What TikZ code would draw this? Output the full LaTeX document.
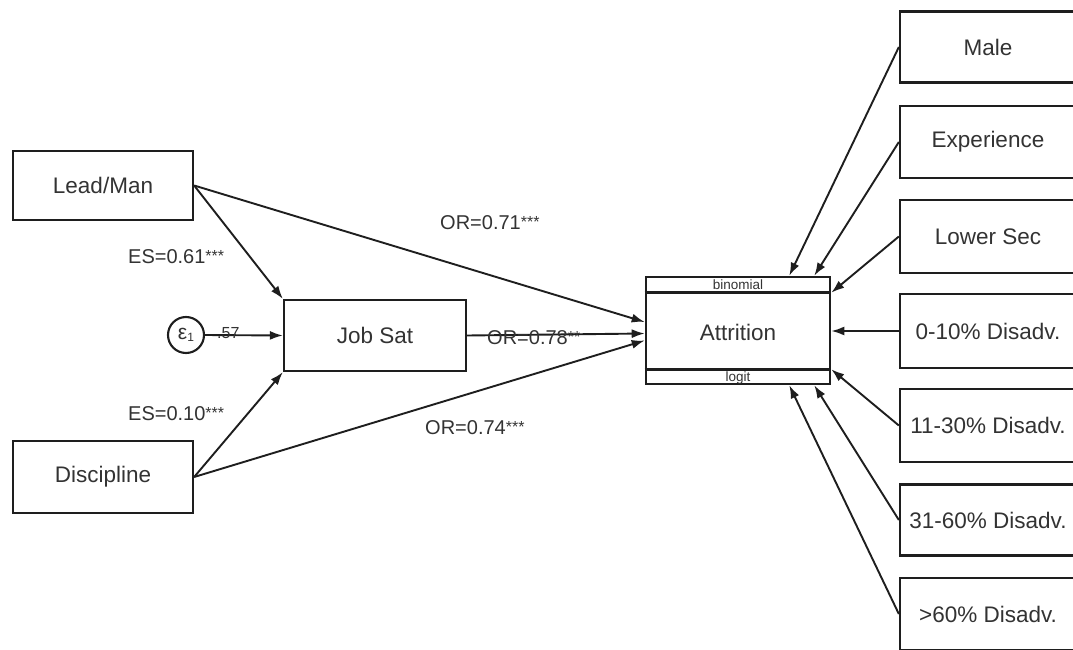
\documentclass[tikz,border=0pt]{standalone}
\usepackage{fontspec}
\setmainfont{Liberation Sans}
\usetikzlibrary{arrows.meta,calc}
\definecolor{ln}{HTML}{1E1E1E}
\definecolor{tx}{HTML}{333333}
\newcommand\sigstars[1]{\raisebox{2.5pt}{\fontsize{16}{16}\selectfont #1}}
\begin{document}
\begin{tikzpicture}[x=1pt,y=-1pt,
  varbox/.style={draw=ln, line width=2.3pt, minimum width=#1, minimum height=71pt, inner sep=0pt, text=tx, font=\fontsize{22.5}{22.5}\selectfont},
  conn/.style={draw=ln, line width=1.9pt, -{Latex[length=13pt,width=9pt]}},
  lbl/.style={text=tx, font=\fontsize{20}{20}\selectfont, inner sep=0pt, anchor=west},
  small/.style={text=tx, font=\fontsize{13.5}{13.5}\selectfont, inner sep=0pt}]
\clip (0,0) rectangle (1073,650);
\fill[white] (0,0) rectangle (1073,650);
% left side
\node[varbox=180pt, minimum height=69pt] (lead) at (103,185.5) {Lead/Man};
\node[varbox=180pt, minimum height=72pt] (disc) at (103,477) {Discipline};
\node[varbox=182pt] (job) at (375,335.5) {Job Sat};
\node[draw=ln, line width=2.1pt, circle, minimum size=36pt, inner sep=0pt, text=tx] (eps) at (186,335)
  {{\fontsize{21}{21}\selectfont ε}\raisebox{-2pt}{\fontsize{12}{12}\selectfont 1}};
% attrition
\node[varbox=184pt, minimum height=107pt, line width=2.6pt] (attr) at (738,330.5) {};
\node[text=tx, font=\fontsize{22.5}{22.5}\selectfont, inner sep=0pt] (attrtxt) at (738,332) {Attrition};
\draw[draw=ln, line width=2.6pt] ($(attr.north west)+(0,17)$) -- ($(attr.north east)+(0,17)$);
\draw[draw=ln, line width=2.6pt] ($(attr.south west)+(0,-16)$) -- ($(attr.south east)+(0,-16)$);
\node[small] (binom) at ($(attr.north)+(0,8.5)$) {binomial};
\node[small] (logit) at ($(attr.south)+(0,-7.5)$) {logit};
% right side boxes
\node[varbox=176pt, minimum height=71pt] (male) at (988,47) {Male};
\node[varbox=176pt, minimum height=72pt] (exper) at (988,142) {Experience};
\node[varbox=176pt, minimum height=73pt] (lsec) at (988,236.5) {Lower Sec};
\node[varbox=176pt, minimum height=74pt] (d1) at (988,331) {0-10\% Disadv.};
\node[varbox=176pt, minimum height=73pt] (d2) at (988,425.5) {11-30\% Disadv.};
\node[varbox=176pt, minimum height=71pt] (d3) at (988,520) {31-60\% Disadv.};
\node[varbox=176pt, minimum height=72pt] (d4) at (988,614) {>60\% Disadv.};
% connectors left
\draw[conn] (lead.east) -- (job.north west);
\draw[conn] (disc.east) -- (job.south west);
\draw[conn] (eps.east) -- (job.west);
\draw[conn] (lead.east) -- ($(attr.west)+(0,-8.5)$);
\draw[conn] (job.east) -- ($(attr.west)+(0,3)$);
\draw[conn] (disc.east) -- ($(attr.west)+(0,10)$);
% connectors right
\draw[conn] (male.west) -- ($(attr.north east)+(-42,0)$);
\draw[conn] (exper.west) -- ($(attr.north east)+(-17,0)$);
\draw[conn] (lsec.west) -- ($(attr.north east)+(0,17)$);
\draw[conn] (d1.west) -- (d1.west -| attr.east);
\draw[conn] (d2.west) -- ($(attr.south east)+(0,-16)$);
\draw[conn] (d3.west) -- ($(attr.south east)+(-17,0)$);
\draw[conn] (d4.west) -- ($(attr.south east)+(-42,0)$);
% labels
\node[lbl] (l71) at (440,223) {OR=0.71\sigstars{***}};
\node[lbl] (l78) at (487,338) {OR=0.78\sigstars{**}};
\node[lbl] (l74) at (425,428) {OR=0.74\sigstars{***}};
\node[lbl] (es61) at (128,257) {ES=0.61\sigstars{***}};
\node[lbl] (es10) at (128,414) {ES=0.10\sigstars{***}};
\node[text=tx, font=\fontsize{16}{16}\selectfont, inner sep=0pt, anchor=west] (v57) at (217,333) {.57};
\end{tikzpicture}
\end{document}
